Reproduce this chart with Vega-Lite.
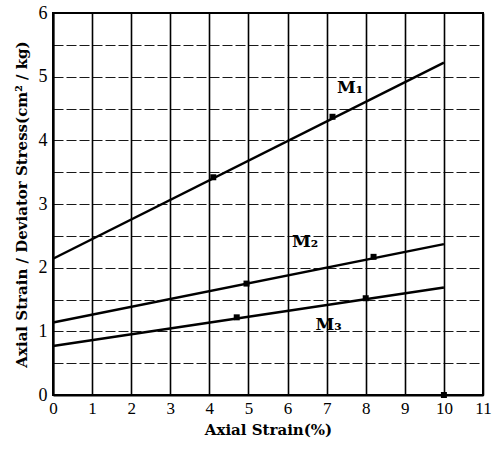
{
  "$schema": "https://vega.github.io/schema/vega-lite/v6.json",
  "width": 430,
  "height": 382,
  "autosize": "none",
  "padding": {"left": 53, "top": 13, "right": 9, "bottom": 59},
  "background": "white",
  "config": {
    "font": "DejaVu Serif",
    "view": {"stroke": "black", "strokeWidth": 2}
  },
  "datasets": {
    "lines": [
      {"series": "M1", "x": 0, "y": 2.14},
      {"series": "M1", "x": 10, "y": 5.22},
      {"series": "M2", "x": 0, "y": 1.14},
      {"series": "M2", "x": 10, "y": 2.37},
      {"series": "M3", "x": 0, "y": 0.77},
      {"series": "M3", "x": 10, "y": 1.69}
    ],
    "points": [
      {"series": "M1", "x": 4.1, "y": 3.42},
      {"series": "M1", "x": 7.15, "y": 4.37},
      {"series": "M2", "x": 4.95, "y": 1.75},
      {"series": "M2", "x": 8.2, "y": 2.17},
      {"series": "M3", "x": 4.7, "y": 1.22},
      {"series": "M3", "x": 8.0, "y": 1.52},
      {"series": "X", "x": 10, "y": 0.0}
    ],
    "labels": [
      {"text": "M₁", "x": 7.6, "y": 4.82},
      {"text": "M₂", "x": 6.45, "y": 2.4},
      {"text": "M₃", "x": 7.05, "y": 1.1}
    ]
  },
  "encoding": {
    "x": {
      "field": "x", "type": "quantitative",
      "scale": {"domain": [0, 11], "nice": false},
      "axis": {
        "values": [0,1,2,3,4,5,6,7,8,9,10,11],
        "format": "d",
        "title": "Axial Strain(%)",
        "titleFont": "DejaVu Serif",
        "titleFontSize": 15, "titleFontWeight": "bold", "titleColor": "black",
        "titlePadding": 6,
        "labelFont": "Liberation Serif",
        "labelFontSize": 17, "labelColor": "black", "labelPadding": 5,
        "labelFlush": false, "labelOverlap": false,
        "ticks": false, "domain": true, "domainColor": "black", "domainWidth": 2,
        "grid": true, "gridColor": "black", "gridWidth": 1.6, "gridOpacity": 1
      }
    },
    "y": {
      "field": "y", "type": "quantitative",
      "scale": {"domain": [0, 6], "nice": false},
      "axis": {
        "values": [0,0.5,1,1.5,2,2.5,3,3.5,4,4.5,5,5.5,6],
        "labelExpr": "datum.value % 1 === 0 ? format(datum.value, 'd') : ''",
        "title": "Axial Strain / Deviator Stress(cm² / kg)",
        "titleFont": "DejaVu Serif",
        "titleFontSize": 15, "titleFontWeight": "bold", "titleColor": "black",
        "titlePadding": 9,
        "labelFont": "Liberation Serif",
        "labelFontSize": 18, "labelColor": "black", "labelPadding": 6,
        "labelFlush": false, "labelOverlap": false,
        "ticks": false, "domain": true, "domainColor": "black", "domainWidth": 2,
        "grid": true, "gridColor": "black", "gridWidth": 1.2, "gridOpacity": 0.9,
        "gridDash": [10, 3]
      }
    }
  },
  "layer": [
    {
      "data": {"name": "lines"},
      "mark": {"type": "line", "color": "black", "strokeWidth": 2.5},
      "encoding": {
        "detail": {"field": "series"}
      }
    },
    {
      "data": {"name": "points"},
      "mark": {"type": "point", "shape": "square", "filled": true, "color": "black", "size": 36, "opacity": 1}
    },
    {
      "data": {"name": "labels"},
      "mark": {"type": "text", "fontSize": 17, "fontWeight": "bold", "color": "black", "font": "DejaVu Serif"},
      "encoding": {
        "text": {"field": "text"}
      }
    }
  ]
}
